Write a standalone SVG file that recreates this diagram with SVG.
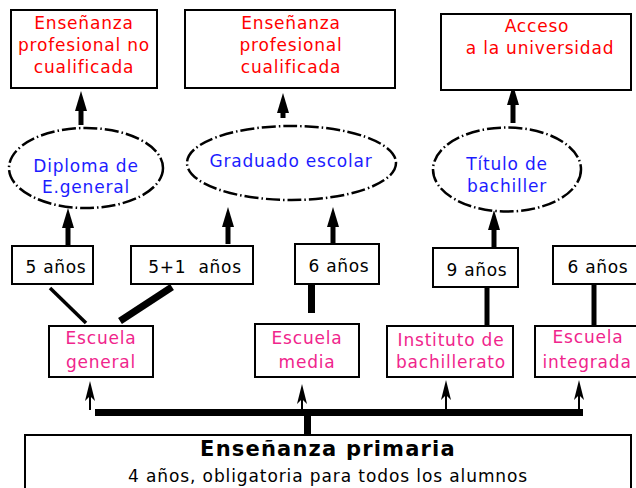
<svg xmlns="http://www.w3.org/2000/svg" width="636" height="488" viewBox="0 0 636 488">
<style>
.box{fill:#fff;stroke:#000;stroke-width:2}
.ell{fill:#fff;stroke:#000;stroke-width:2.5;stroke-dasharray:14 3 1.5 3}
text{font-family:"DejaVu Sans","Verdana",sans-serif;text-anchor:middle}
.red{fill:#ff0000;font-size:17px;letter-spacing:0.8px}
.blue{fill:#1c1cff;font-size:17px;letter-spacing:0.8px}
.pink{fill:#f0258c;font-size:17px;letter-spacing:0.8px}
.blk{fill:#000;font-size:17px;letter-spacing:0.7px}
.title{fill:#000;font-size:21px;font-weight:bold;letter-spacing:1.2px}
.sub{fill:#000;font-size:17px;letter-spacing:0.9px}
.shaft{stroke:#000;stroke-width:5;fill:none}
.thin{stroke:#000;stroke-width:2;fill:none}
</style>
<defs>
<path id="bighead" d="M0,0 L6,20 L-6,20 Z" fill="#000"/>
<path id="smallhead" d="M0,0 L5,20 L0,15 L-5,20 Z" fill="#000"/>
</defs>

<g id="connectors">
  <line class="shaft" x1="81" y1="108" x2="81" y2="125"/><use href="#bighead" x="81" y="91"/>
  <line class="shaft" x1="283" y1="110" x2="283" y2="118"/><use href="#bighead" x="283" y="93"/>
  <line class="shaft" x1="513" y1="102" x2="513" y2="123"/><use href="#bighead" x="513" y="85"/>
  <line class="shaft" x1="68" y1="225" x2="68" y2="245"/><use href="#bighead" x="68" y="208"/>
  <line class="shaft" x1="228" y1="224" x2="228" y2="244"/><use href="#bighead" x="228" y="207"/>
  <line class="shaft" x1="333" y1="224" x2="333" y2="244"/><use href="#bighead" x="333" y="207"/>
  <line class="shaft" x1="494" y1="227" x2="494" y2="248"/><use href="#bighead" x="494" y="210"/>
  <line stroke="#000" stroke-width="3.5" x1="50" y1="288" x2="86" y2="323"/>
  <line stroke="#000" stroke-width="7" x1="172" y1="287" x2="120" y2="321"/>
  <line stroke="#000" stroke-width="7" x1="311.5" y1="285" x2="311.5" y2="313"/>
  <line class="shaft" x1="487" y1="285" x2="487" y2="326"/>
  <line class="shaft" x1="594" y1="285" x2="594" y2="326"/>
  <line stroke="#000" stroke-width="7" x1="95" y1="412.5" x2="583" y2="412.5"/>
  <line stroke="#000" stroke-width="7" x1="307.5" y1="412" x2="307.5" y2="435"/>
  <line class="thin" x1="90" y1="395" x2="90" y2="410"/><use href="#smallhead" x="90" y="381"/>
  <line class="thin" x1="302" y1="398" x2="302" y2="410"/><use href="#smallhead" x="302" y="384"/>
  <line class="thin" x1="446" y1="394" x2="446" y2="410"/><use href="#smallhead" x="446" y="380"/>
  <line class="thin" x1="579" y1="394" x2="579" y2="410"/><use href="#smallhead" x="579" y="380"/>
</g>

<g id="top1"><rect class="box" x="11" y="10" width="146" height="78"/>
<text class="red" x="84" y="29">Enseñanza</text><text class="red" x="84" y="51">profesional no</text><text class="red" x="84" y="73">cualificada</text></g>
<g id="top2"><rect class="box" x="185" y="10" width="210" height="78"/>
<text class="red" x="291" y="29">Enseñanza</text><text class="red" x="291" y="51">profesional</text><text class="red" x="291" y="73">cualificada</text></g>
<g id="top3"><rect class="box" x="441" y="14" width="190" height="76"/>
<text class="red" x="537" y="32">Acceso</text><text class="red" x="540" y="54">a la universidad</text></g>

<g id="ell1"><ellipse class="ell" cx="86" cy="168" rx="77" ry="40"/>
<text class="blue" x="86" y="172">Diploma de</text><text class="blue" x="86" y="193">E.general</text></g>
<g id="ell2"><ellipse class="ell" cx="291.5" cy="163" rx="104.5" ry="37"/>
<text class="blue" x="291" y="167">Graduado escolar</text></g>
<g id="ell3"><ellipse class="ell" cx="507" cy="169.5" rx="74" ry="42"/>
<text class="blue" x="507" y="170">Título de</text><text class="blue" x="507" y="192">bachiller</text></g>

<g id="y1"><rect class="box" x="12" y="246" width="81" height="38"/><text class="blk" x="56" y="273">5 años</text></g>
<g id="y2"><rect class="box" x="131" y="246" width="122" height="38"/><text class="blk" x="195" y="273" xml:space="preserve">5+1  años</text></g>
<g id="y3"><rect class="box" x="295" y="244" width="84" height="40"/><text class="blk" x="339" y="272">6 años</text></g>
<g id="y4"><rect class="box" x="433" y="248" width="85" height="39"/><text class="blk" x="477" y="276">9 años</text></g>
<g id="y5"><rect class="box" x="553" y="246" width="100" height="38"/><text class="blk" x="598" y="273">6 años</text></g>

<g id="s1"><rect class="box" x="49" y="326" width="104" height="51"/><text class="pink" x="101" y="344">Escuela</text><text class="pink" x="101" y="368">general</text></g>
<g id="s2"><rect class="box" x="255" y="324" width="104" height="53"/><text class="pink" x="307" y="344">Escuela</text><text class="pink" x="307" y="368">media</text></g>
<g id="s3"><rect class="box" x="387" y="326" width="126" height="51"/><text class="pink" x="451" y="346">Instituto de</text><text class="pink" x="451" y="368">bachillerato</text></g>
<g id="s4"><rect class="box" x="535" y="326" width="110" height="51"/><text class="pink" x="588" y="343">Escuela</text><text class="pink" x="587" y="368">integrada</text></g>

<g id="primary"><rect class="box" x="25" y="435" width="606" height="70"/>
<text class="title" x="328" y="456">Enseñanza primaria</text>
<text class="sub" x="328" y="482">4 años, obligatoria para todos los alumnos</text></g>
</svg>
